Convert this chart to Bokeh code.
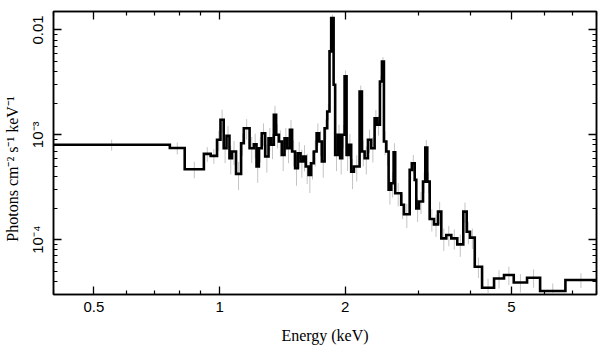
import numpy as np
from bokeh.plotting import figure
from bokeh.models import LogAxis, FixedTicker, Range1d, ColumnDataSource, CustomLabelingPolicy
from bokeh.embed import file_html
from bokeh.resources import INLINE

# Bin edges (keV) of the binned spectrum
edges = [0.40, 0.760, 0.825, 0.917, 0.952, 0.986, 1.005, 1.023, 1.039, 1.056, 1.071,
         1.095, 1.126, 1.143, 1.180, 1.208, 1.226, 1.242, 1.262, 1.286, 1.310,
         1.329, 1.349, 1.366, 1.387, 1.410, 1.431, 1.452, 1.474, 1.492, 1.517,
         1.540, 1.563, 1.586, 1.609, 1.634, 1.657, 1.682, 1.708, 1.732, 1.758,
         1.785, 1.811, 1.834, 1.851, 1.876, 1.892, 1.920, 1.945, 1.967, 1.993,
         2.015, 2.038, 2.067, 2.098, 2.165, 2.193, 2.226, 2.267, 2.308, 2.352,
         2.386, 2.422, 2.449, 2.476, 2.508, 2.541, 2.578, 2.612, 2.635, 2.724,
         2.765, 2.854, 2.890, 2.934, 2.960, 3.004, 3.072, 3.111, 3.145, 3.187,
         3.264, 3.337, 3.398, 3.493, 3.591, 3.711, 3.836, 3.909, 3.981, 4.087,
         4.255, 4.546, 4.803, 5.068, 5.454, 5.861, 6.739, 8.0]

# Flux per bin (photons cm^-2 s^-1 keV^-1)
flux = [8.03e-4, 7.48e-4, 4.69e-4, 6.58e-4, 6.30e-4, 8.96e-4, 1.39e-3, 7.45e-4, 9.78e-4, 5.98e-4,
        6.93e-4, 4.24e-4, 8.31e-4, 1.156e-3, 7.45e-4, 8.13e-4, 4.98e-4, 7.45e-4, 1.036e-3, 6.21e-4,
        9.28e-4, 8.03e-4, 1.55e-3, 1.0e-3, 8.63e-4, 6.44e-4, 9.28e-4, 7.45e-4, 1.116e-3, 6.93e-4,
        4.80e-4, 6.67e-4, 5.56e-4, 6.21e-4, 4.98e-4, 4.15e-4, 5.36e-4, 6.93e-4, 1.036e-3, 8.63e-4,
        5.56e-4, 1.156e-3, 1.67e-3, 6.25e-3, 1.30e-2, 3.00e-3, 6.44e-4, 1.0e-3, 5.98e-4, 1.0e-3,
        3.61e-3, 6.44e-4, 8.03e-4, 4.46e-4, 4.98e-4, 2.59e-3, 6.93e-4, 5.98e-4, 8.96e-4, 7.45e-4,
        1.44e-3, 1.246e-3, 3.23e-3, 5.01e-3, 8.63e-4, 6.93e-4, 3.00e-4, 3.45e-4, 6.82e-4, 2.77e-4,
        2.15e-4, 1.745e-4, 4.63e-4, 5.36e-4, 3.72e-4, 1.99e-4, 2.31e-4, 3.58e-4, 7.56e-4, 3.58e-4,
        1.576e-4, 1.40e-4, 1.85e-4, 1.029e-4, 1.109e-4, 1.029e-4, 9.02e-5, 1.85e-4, 1.192e-4, 1.045e-4,
        5.52e-5, 3.48e-5, 4.27e-5, 4.60e-5, 3.91e-5, 4.34e-5, 3.24e-5, 4.12e-5]

# Relative 1-sigma errors per bin
err_frac = [0.12, 0.13, 0.18, 0.16, 0.16, 0.22, 0.25, 0.28, 0.24, 0.30,
            0.26, 0.30, 0.24, 0.22, 0.28, 0.26, 0.30, 0.27, 0.24, 0.30,
            0.25, 0.27, 0.22, 0.26, 0.28, 0.30, 0.25, 0.28, 0.24, 0.28,
            0.32, 0.28, 0.30, 0.28, 0.32, 0.33, 0.30, 0.28, 0.24, 0.27,
            0.30, 0.22, 0.18, 0.10, 0.08, 0.15, 0.30, 0.25, 0.30, 0.25,
            0.14, 0.30, 0.27, 0.32, 0.28, 0.14, 0.28, 0.30, 0.25, 0.27,
            0.20, 0.21, 0.12, 0.10, 0.26, 0.27, 0.28, 0.27, 0.22, 0.25,
            0.27, 0.26, 0.20, 0.20, 0.24, 0.26, 0.24, 0.22, 0.18, 0.22,
            0.24, 0.24, 0.24, 0.24, 0.22, 0.22, 0.24, 0.22, 0.24, 0.22,
            0.22, 0.22, 0.20, 0.20, 0.20, 0.20, 0.18, 0.16]

x_ticks = [0.5, 1, 2, 5]
x_labels = ["0.5", "1", "2", "5"]
x_minor = [0.4, 0.6, 0.7, 0.8, 0.9, 3, 4, 6, 7, 8]
y_ticks = [1e-4, 1e-3, 1e-2]
y_labels = ["10\u207b\u2074", "10\u207b\u00b3", "0.01"]
y_minor = [m * 10.0 ** e for e in (-5, -4, -3, -2) for m in range(2, 10)]

e = np.array(edges)
f = np.array(flux)
ef = np.array(err_frac)

xs = np.repeat(e, 2)[1:-1]
ys = np.repeat(f, 2)
centers = np.sqrt(e[:-1] * e[1:])

p = figure(x_axis_type="log", y_axis_type="log",
           x_range=Range1d(0.4, 8.0), y_range=Range1d(3e-5, 0.015),
           frame_width=543, frame_height=283,
           min_border_left=47, min_border_right=3, min_border_top=3, min_border_bottom=55,
           output_backend="svg", toolbar_location=None)
p.xgrid.visible = False
p.ygrid.visible = False
p.outline_line_color = "black"
p.outline_line_width = 1.5
p.background_fill_color = "white"
p.border_fill_color = "white"

src_err = ColumnDataSource(dict(x=centers, y0=f * (1 - ef), y1=f * (1 + ef)))
p.segment(x0="x", y0="y0", x1="x", y1="y1", source=src_err, line_color="#c4c4c4", line_width=1)
p.line(xs, ys, line_color="black", line_width=2.6, line_join="miter")

hide_all = CustomLabelingPolicy(code="for (const i of Array.from(indices)) indices.unset(i); return indices")

def style_axis(ax, show_labels):
    ax.axis_line_color = "black"
    ax.axis_line_width = 1.5
    ax.major_tick_in = 8
    ax.major_tick_out = 0
    ax.minor_tick_in = 4
    ax.minor_tick_out = 0
    ax.major_tick_line_color = "black"
    ax.minor_tick_line_color = "black"
    ax.major_tick_line_width = 1.3
    ax.minor_tick_line_width = 1.2
    if not show_labels:
        ax.major_label_policy = hide_all
        ax.major_label_standoff = 0
        ax.axis_label = None
    else:
        ax.major_label_text_font = "Liberation Sans"
        ax.major_label_text_font_size = "15px"
        ax.major_label_text_color = "black"
        ax.axis_label_text_font = "Liberation Serif"
        ax.axis_label_text_font_size = "16px"
        ax.axis_label_text_font_style = "normal"
        ax.axis_label_text_color = "black"

xt = FixedTicker(ticks=x_ticks, minor_ticks=x_minor)
yt = FixedTicker(ticks=y_ticks, minor_ticks=y_minor)

xa = p.xaxis[0]
xa.ticker = xt
xa.major_label_overrides = dict(zip(x_ticks, x_labels))
xa.axis_label = "Energy (keV)"
style_axis(xa, True)
xa.major_label_standoff = 7
xa.axis_label_standoff = 12

ya = p.yaxis[0]
ya.ticker = yt
ya.major_label_overrides = dict(zip(y_ticks, y_labels))
ya.axis_label = "Photons cm\u207b\u00b2 s\u207b\u00b9 keV\u207b\u00b9\u2003\u2003"
ya.major_label_orientation = "vertical"
style_axis(ya, True)
ya.major_label_standoff = 7
ya.axis_label_standoff = 6

top = LogAxis(ticker=FixedTicker(ticks=x_ticks, minor_ticks=x_minor))
style_axis(top, False)
p.add_layout(top, "above")
right = LogAxis(ticker=FixedTicker(ticks=y_ticks, minor_ticks=y_minor))
style_axis(right, False)
p.add_layout(right, "right")

open("out.html", "w").write(file_html(p, INLINE))
